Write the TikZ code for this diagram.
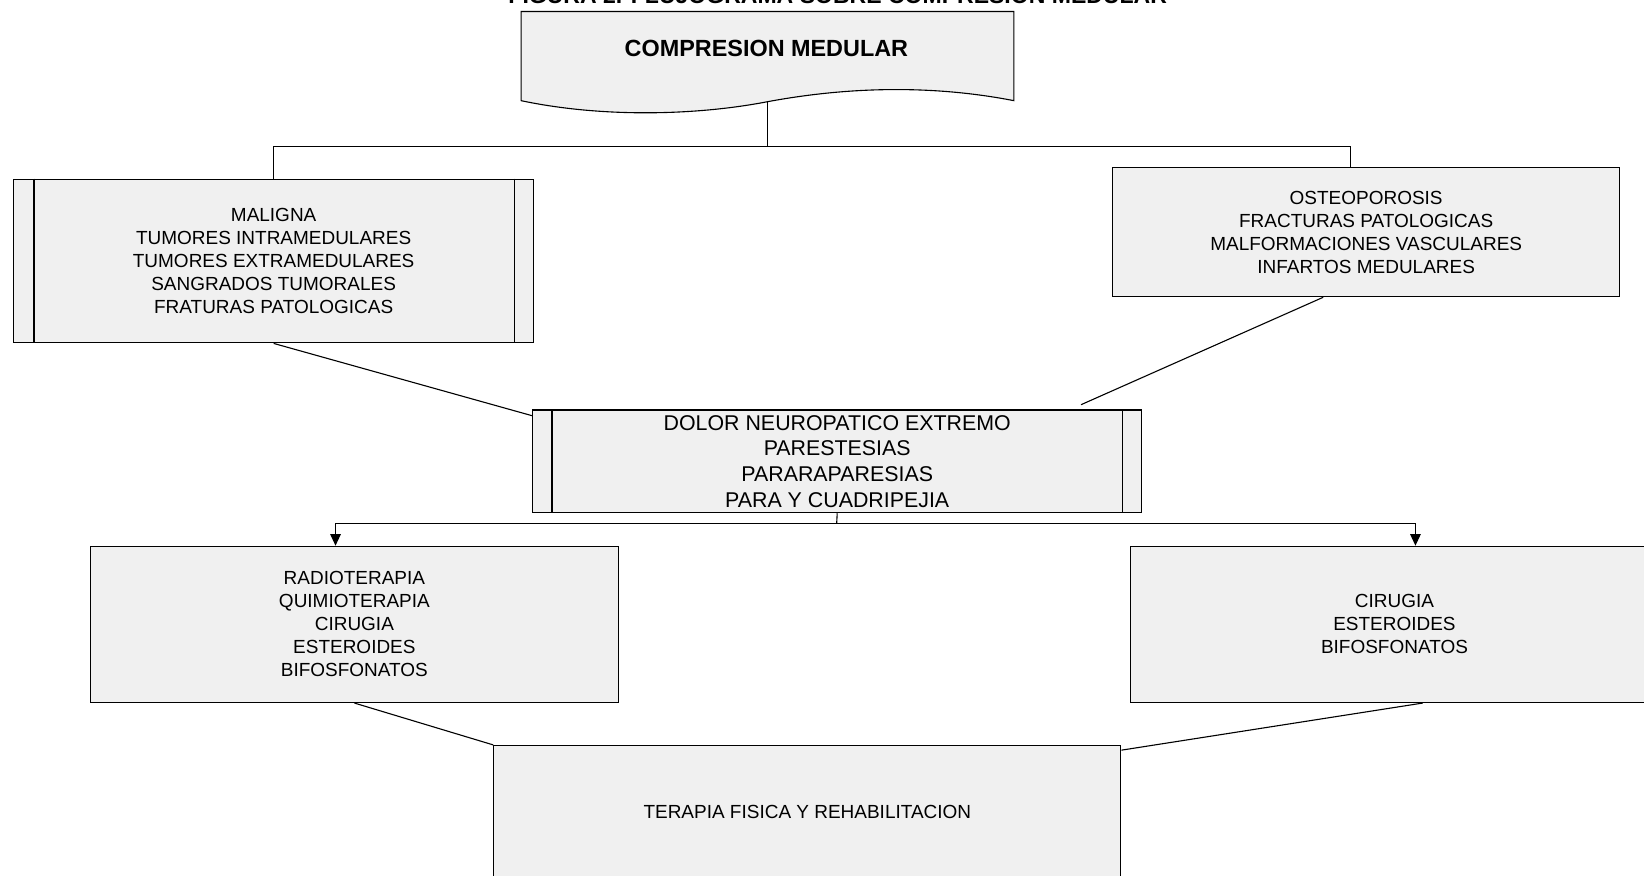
\documentclass[tikz,border=0pt]{standalone}
\usepackage{fontspec}
\setmainfont{Liberation Sans}
\usetikzlibrary{arrows.meta}
\definecolor{boxfill}{HTML}{F0F0F0}

\begin{document}
\begin{tikzpicture}[
    line width=0.6pt,
    box/.style={rectangle, draw=black, fill=boxfill, text centered, align=center, inner sep=0pt, font=\fontsize{10.3}{12.5}\selectfont},
    bigbox/.style={box, font=\fontsize{11.6}{14}\selectfont},
    arrow/.style={->,>={Triangle[length=0.22cm,width=0.2cm]}},
]
    \useasboundingbox (0,0) rectangle (31.36,-16.70);

    \node (titulo) [anchor=base, font=\bfseries\fontsize{12.5}{15}\selectfont] at (15.98,-0.06)
      {FIGURA 2. FLUJOGRAMA SOBRE COMPRESION MEDULAR};

    % documento de arriba
    \filldraw [fill=boxfill] (9.94,-0.22) -- (19.34,-0.22) -- (19.34,-1.92)
      .. controls (17.8,-1.62) and (16.2,-1.65) .. (14.64,-1.94)
      .. controls (13.3,-2.2) and (11.5,-2.25) .. (9.94,-1.92) -- cycle;
    \coordinate (wavemid) at (14.64,-1.94);
    \node (compresion) [font=\bfseries\fontsize{12.7}{15}\selectfont] at (14.62,-0.92) {COMPRESION MEDULAR};

    \node (maligna) [box, minimum width=9.92cm, minimum height=3.12cm] at (5.22,-4.98)
      {MALIGNA\\TUMORES INTRAMEDULARES\\TUMORES EXTRAMEDULARES\\SANGRADOS TUMORALES\\FRATURAS PATOLOGICAS};
    \draw ([xshift=0.40cm]maligna.north west) -- ([xshift=0.40cm]maligna.south west);
    \draw ([xshift=-0.38cm]maligna.north east) -- ([xshift=-0.38cm]maligna.south east);

    \node (osteo) [box, minimum width=9.68cm, minimum height=2.46cm] at (26.06,-4.43)
      {OSTEOPOROSIS\\FRACTURAS PATOLOGICAS\\MALFORMACIONES VASCULARES\\INFARTOS MEDULARES};

    \node (dolor) [bigbox, minimum width=11.62cm, minimum height=1.96cm] at (15.97,-8.80)
      {DOLOR NEUROPATICO EXTREMO\\PARESTESIAS\\PARARAPARESIAS\\PARA Y CUADRIPEJIA};
    \draw ([xshift=0.38cm]dolor.north west) -- ([xshift=0.38cm]dolor.south west);
    \draw ([xshift=-0.38cm]dolor.north east) -- ([xshift=-0.38cm]dolor.south east);

    \node (tratA) [box, minimum width=10.08cm, minimum height=2.98cm] at (6.76,-11.91)
      {RADIOTERAPIA\\QUIMIOTERAPIA\\CIRUGIA\\ESTEROIDES\\BIFOSFONATOS};
    \node (tratB) [box, minimum width=10.08cm, minimum height=2.98cm] at (26.60,-11.91)
      {CIRUGIA\\ESTEROIDES\\BIFOSFONATOS};

    \node (terapia) [box, minimum width=11.96cm, minimum height=2.52cm] at (15.40,-15.48)
      {TERAPIA FISICA Y REHABILITACION};

    \coordinate (rama) at (14.64,-2.80);
    \coordinate (sinllegar) at (20.62,-7.72);
    \coordinate (reparto) at (15.96,-9.98);

    \draw (wavemid) -- (rama);
    \draw (rama) -| (maligna.north);
    \draw (rama) -| ([xshift=-0.30cm]osteo.north);
    \draw (maligna.south) -- ([yshift=-0.12cm]dolor.north west);
    \draw ([xshift=-0.82cm]osteo.south) -- (sinllegar);
    \draw (dolor.south) -- (reparto);
    \draw [arrow] (reparto) -| ([xshift=-0.36cm]tratA.north);
    \draw [arrow] (reparto) -| ([xshift=0.40cm]tratB.north);
    \draw (tratA.south) -- (terapia.north west);
    \draw ([xshift=0.54cm]tratB.south) -- ([yshift=-0.10cm]terapia.north east);

\end{tikzpicture}
\end{document}
